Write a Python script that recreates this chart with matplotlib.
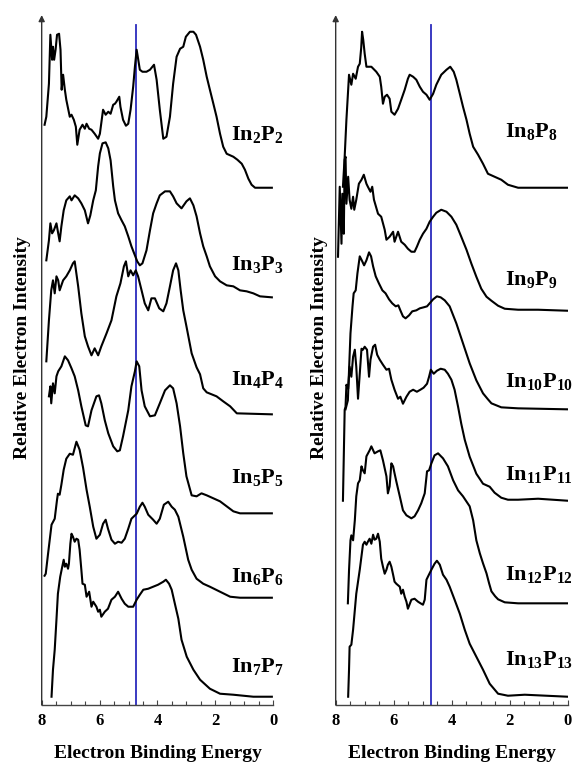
import numpy as np
import matplotlib
matplotlib.use('Agg')
import matplotlib.pyplot as plt
from matplotlib.ticker import MultipleLocator

# photoelectron spectra, (binding energy eV, intensity above baseline)
in2p2 = [(7.90, 63), (7.84, 71), (7.75, 104), (7.70, 153), (7.64, 128), (7.61, 141), (7.57, 128), (7.52, 138),
         (7.47, 153), (7.40, 154), (7.35, 138), (7.31, 98), (7.26, 113), (7.20, 98), (7.15, 88), (7.03, 71),
         (6.97, 73), (6.89, 68), (6.82, 61), (6.77, 43), (6.69, 58), (6.59, 63), (6.51, 59), (6.45, 64),
         (6.36, 59), (6.28, 58), (6.17, 54), (6.05, 49), (5.99, 54), (5.88, 78), (5.79, 73), (5.70, 76),
         (5.62, 74), (5.53, 83), (5.47, 84), (5.42, 86), (5.32, 91), (5.28, 81), (5.19, 68), (5.09, 62),
         (5.01, 64), (4.93, 78), (4.84, 101), (4.78, 121), (4.72, 138), (4.67, 129), (4.61, 118), (4.52, 116),
         (4.38, 116), (4.26, 118), (4.12, 123), (4.03, 108), (3.92, 78), (3.80, 49), (3.69, 51), (3.57, 71),
         (3.46, 104), (3.34, 131), (3.22, 139), (3.11, 141), (3.02, 151), (2.88, 156), (2.76, 156), (2.67, 153),
         (2.53, 141), (2.42, 128), (2.30, 111), (2.19, 98), (2.07, 84), (1.96, 71), (1.84, 54), (1.73, 41),
         (1.61, 34), (1.38, 31), (1.24, 28), (1.09, 24), (0.98, 18), (0.86, 9), (0.75, 3), (0.63, 0),
         (0.46, 0), (0.05, 0)]

in3p3 = [(7.84, 37), (7.75, 57), (7.70, 74), (7.64, 64), (7.58, 67), (7.49, 74), (7.43, 64), (7.38, 56),
         (7.32, 71), (7.24, 87), (7.15, 97), (7.03, 101), (6.97, 97), (6.86, 102), (6.74, 99), (6.63, 94),
         (6.51, 87), (6.40, 74), (6.32, 82), (6.22, 97), (6.13, 107), (6.05, 131), (5.99, 144), (5.90, 154),
         (5.79, 155), (5.70, 149), (5.62, 137), (5.53, 111), (5.47, 97), (5.36, 84), (5.24, 77), (5.13, 71),
         (5.01, 61), (4.90, 51), (4.78, 42), (4.70, 36), (4.61, 32), (4.52, 34), (4.38, 47), (4.26, 67),
         (4.15, 84), (4.03, 94), (3.92, 102), (3.74, 106), (3.57, 106), (3.46, 101), (3.34, 94), (3.17, 89),
         (3.00, 96), (2.88, 99), (2.76, 92), (2.65, 81), (2.53, 64), (2.42, 51), (2.30, 41), (2.19, 31),
         (2.01, 21), (1.84, 16), (1.61, 12), (1.38, 11), (1.15, 7), (0.92, 6), (0.69, 4), (0.46, 1), (0.05, 0)]

in4p4 = [(7.84, 53), (7.75, 94), (7.67, 124), (7.61, 134), (7.55, 121), (7.49, 138), (7.43, 134), (7.38, 124),
         (7.26, 134), (7.15, 138), (7.03, 144), (6.92, 151), (6.86, 153), (6.74, 128), (6.63, 101), (6.51, 78),
         (6.40, 68), (6.28, 59), (6.17, 66), (6.05, 59), (5.94, 68), (5.76, 81), (5.59, 94), (5.42, 118),
         (5.28, 131), (5.16, 148), (5.09, 153), (5.01, 138), (4.93, 144), (4.84, 139), (4.75, 144), (4.67, 138),
         (4.55, 124), (4.44, 111), (4.32, 104), (4.21, 116), (4.09, 116), (3.94, 106), (3.80, 103), (3.69, 111),
         (3.57, 128), (3.46, 144), (3.36, 151), (3.28, 144), (3.20, 124), (3.11, 104), (3.00, 88), (2.82, 61),
         (2.65, 47), (2.53, 40), (2.42, 26), (2.30, 22), (1.96, 18), (1.73, 13), (1.49, 8), (1.26, 1), (0.05, 0)]

in5p5 = [(7.75, 117), (7.70, 127), (7.67, 110), (7.61, 130), (7.55, 120), (7.49, 137), (7.43, 142), (7.32, 147),
         (7.20, 157), (7.09, 153), (6.97, 145), (6.86, 137), (6.74, 123), (6.63, 107), (6.48, 88), (6.40, 87),
         (6.28, 103), (6.11, 117), (6.02, 118), (5.94, 110), (5.82, 93), (5.70, 80), (5.53, 67), (5.39, 62),
         (5.30, 63), (5.19, 77), (5.01, 103), (4.90, 127), (4.78, 142), (4.72, 152), (4.63, 147), (4.55, 123),
         (4.44, 107), (4.26, 97), (4.09, 98), (3.92, 110), (3.74, 123), (3.57, 128), (3.46, 125), (3.34, 110),
         (3.22, 87), (3.11, 60), (3.00, 37), (2.82, 18), (2.65, 17), (2.48, 20), (2.30, 18), (2.07, 15),
         (1.84, 12), (1.61, 7), (1.38, 2), (1.15, 0), (0.05, 0)]

in6p6 = [(7.90, 22), (7.86, 24), (7.78, 44), (7.66, 73), (7.55, 79), (7.47, 98), (7.44, 104), (7.38, 103),
         (7.32, 113), (7.24, 128), (7.15, 139), (7.03, 144), (6.92, 143), (6.80, 156), (6.69, 148), (6.57, 130),
         (6.45, 108), (6.34, 91), (6.22, 71), (6.11, 59), (5.99, 63), (5.88, 74), (5.79, 78), (5.71, 69),
         (5.59, 58), (5.47, 54), (5.36, 56), (5.24, 55), (5.13, 59), (5.01, 69), (4.90, 79), (4.72, 84),
         (4.61, 91), (4.52, 95), (4.44, 91), (4.32, 83), (4.15, 78), (4.03, 74), (3.92, 79), (3.78, 93),
         (3.63, 96), (3.51, 91), (3.40, 88), (3.28, 81), (3.11, 61), (2.94, 38), (2.82, 28), (2.65, 19),
         (2.42, 14), (2.19, 11), (1.84, 6), (1.49, 1), (1.15, 0), (0.05, 0)]

in7p7 = [(7.66, 0), (7.61, 27), (7.55, 47), (7.49, 77), (7.44, 103), (7.36, 120), (7.29, 130), (7.24, 137),
         (7.20, 130), (7.15, 133), (7.09, 128), (7.06, 133), (7.01, 153), (6.97, 163), (6.92, 160), (6.86, 155),
         (6.80, 158), (6.74, 157), (6.69, 147), (6.63, 127), (6.59, 113), (6.51, 112), (6.45, 100), (6.36, 105),
         (6.28, 90), (6.22, 95), (6.11, 90), (6.05, 85), (5.99, 87), (5.94, 80), (5.82, 85), (5.71, 88),
         (5.59, 97), (5.47, 100), (5.36, 105), (5.24, 98), (5.13, 93), (5.01, 90), (4.84, 90), (4.72, 97),
         (4.61, 102), (4.49, 107), (4.32, 108), (4.15, 110), (3.98, 112), (3.80, 115), (3.71, 117), (3.60, 113),
         (3.51, 107), (3.40, 93), (3.28, 78), (3.17, 57), (2.99, 40), (2.76, 27), (2.53, 17), (2.19, 8),
         (1.84, 3), (1.38, 2), (0.69, 0), (0.05, 0)]

in8p8 = [(7.75, 1), (7.69, 31), (7.63, 68), (7.57, 98), (7.54, 113), (7.46, 103), (7.40, 114), (7.31, 109),
         (7.23, 121), (7.17, 124), (7.12, 140), (7.09, 156), (7.05, 148), (7.00, 134), (6.94, 121), (6.77, 121),
         (6.60, 116), (6.48, 111), (6.43, 101), (6.37, 84), (6.31, 91), (6.23, 93), (6.14, 89), (6.08, 76),
         (5.97, 73), (5.85, 79), (5.74, 88), (5.62, 98), (5.51, 109), (5.45, 113), (5.33, 111), (5.22, 108),
         (5.10, 101), (4.99, 96), (4.87, 93), (4.76, 88), (4.64, 94), (4.53, 103), (4.36, 113), (4.18, 118),
         (4.05, 121), (3.93, 116), (3.84, 108), (3.72, 94), (3.61, 81), (3.49, 68), (3.38, 54), (3.26, 41),
         (3.09, 33), (2.92, 24), (2.75, 14), (2.52, 11), (2.29, 8), (2.06, 3), (1.71, 0), (0.0, 0)]

in9p9 = [(7.92, 54), (7.86, 124), (7.80, 67), (7.77, 117), (7.72, 77), (7.69, 151), (7.66, 154), (7.63, 107),
         (7.57, 134), (7.52, 111), (7.46, 102), (7.40, 114), (7.36, 101), (7.29, 111), (7.20, 127), (7.11, 131),
         (7.03, 136), (6.94, 127), (6.89, 124), (6.80, 119), (6.74, 124), (6.68, 111), (6.54, 97), (6.43, 94),
         (6.31, 81), (6.25, 71), (6.14, 74), (6.02, 79), (5.97, 69), (5.85, 79), (5.74, 69), (5.62, 66),
         (5.51, 62), (5.39, 59), (5.28, 59), (5.20, 64), (5.10, 71), (4.99, 77), (4.87, 82), (4.76, 89),
         (4.64, 94), (4.53, 98), (4.36, 101), (4.18, 99), (4.01, 94), (3.84, 86), (3.67, 74), (3.49, 61),
         (3.32, 47), (3.15, 34), (2.98, 22), (2.80, 14), (2.63, 10), (2.40, 5), (2.17, 2), (1.71, 1),
         (1.02, 1), (0.0, 0)]

in10p10 = [(7.66, 0), (7.58, 9), (7.49, 76), (7.42, 103), (7.38, 116), (7.31, 119), (7.25, 136), (7.17, 153),
           (7.10, 149), (7.02, 144), (6.94, 149), (6.85, 157), (6.78, 153), (6.71, 143), (6.62, 133), (6.51, 126),
           (6.39, 119), (6.28, 116), (6.16, 110), (6.05, 106), (5.93, 103), (5.84, 104), (5.77, 99), (5.68, 93),
           (5.59, 91), (5.47, 94), (5.36, 98), (5.22, 99), (5.10, 101), (4.97, 102), (4.85, 103), (4.76, 106),
           (4.64, 110), (4.51, 113), (4.38, 112), (4.24, 109), (4.07, 103), (3.84, 86), (3.61, 66), (3.38, 46),
           (3.15, 29), (2.92, 16), (2.75, 10), (2.63, 6), (2.29, 2), (1.71, 1), (0.0, 0)]

in11p11 = [(7.75, 0), (7.69, 91), (7.66, 94), (7.63, 116), (7.57, 112), (7.52, 134), (7.46, 124), (7.40, 144),
           (7.34, 151), (7.29, 134), (7.23, 102), (7.17, 127), (7.11, 152), (7.06, 151), (7.00, 154), (6.92, 151),
           (6.85, 124), (6.80, 141), (6.71, 154), (6.64, 156), (6.57, 146), (6.48, 141), (6.37, 136), (6.25, 131),
           (6.16, 132), (6.08, 121), (5.97, 111), (5.85, 102), (5.77, 104), (5.68, 97), (5.56, 104), (5.45, 109),
           (5.33, 111), (5.20, 109), (5.08, 111), (4.97, 113), (4.85, 117), (4.78, 124), (4.72, 131), (4.62, 127),
           (4.51, 130), (4.38, 132), (4.24, 131), (4.13, 127), (4.01, 121), (3.90, 111), (3.78, 94), (3.67, 77),
           (3.55, 61), (3.38, 44), (3.15, 27), (2.92, 17), (2.69, 14), (2.52, 8), (2.29, 3), (2.06, 1),
           (1.71, 1), (1.02, 2), (0.0, 0)]

in12p12 = [(7.58, 0), (7.54, 33), (7.49, 63), (7.46, 68), (7.40, 63), (7.34, 83), (7.29, 107), (7.23, 120),
           (7.17, 123), (7.11, 137), (7.06, 133), (7.00, 130), (6.94, 147), (6.83, 153), (6.77, 157), (6.66, 150),
           (6.54, 152), (6.46, 153), (6.37, 143), (6.25, 127), (6.20, 110), (6.14, 117), (6.08, 140), (6.02, 137),
           (5.97, 130), (5.91, 122), (5.79, 107), (5.68, 93), (5.56, 88), (5.39, 85), (5.28, 87), (5.16, 93),
           (5.05, 100), (4.93, 110), (4.85, 132), (4.78, 133), (4.70, 140), (4.59, 148), (4.47, 150), (4.30, 145),
           (4.13, 137), (3.95, 123), (3.78, 113), (3.61, 107), (3.38, 97), (3.26, 83), (3.15, 63), (3.03, 50),
           (2.92, 40), (2.80, 30), (2.71, 20), (2.63, 12), (2.50, 7), (2.40, 4), (2.17, 1), (1.71, 0), (0.0, 0)]

in13p13 = [(7.57, 0), (7.54, 27), (7.52, 50), (7.46, 52), (7.40, 67), (7.29, 103), (7.17, 127), (7.06, 152),
           (7.00, 155), (6.94, 152), (6.89, 155), (6.83, 158), (6.77, 153), (6.71, 162), (6.66, 157), (6.60, 158),
           (6.54, 163), (6.48, 155), (6.43, 138), (6.37, 130), (6.31, 123), (6.25, 127), (6.20, 132), (6.14, 135),
           (6.08, 130), (6.02, 122), (5.97, 115), (5.91, 113), (5.79, 110), (5.74, 103), (5.68, 107), (5.62, 100),
           (5.56, 95), (5.51, 88), (5.39, 97), (5.28, 98), (5.16, 95), (5.05, 93), (4.99, 92), (4.93, 97),
           (4.87, 117), (4.82, 120), (4.70, 127), (4.59, 133), (4.51, 136), (4.41, 132), (4.30, 122), (4.18, 117),
           (4.07, 110), (3.90, 97), (3.72, 83), (3.55, 67), (3.38, 53), (3.15, 40), (2.92, 27), (2.69, 13),
           (2.40, 3), (2.06, 1), (1.48, 2), (0.0, 0)]

left_sizes = [2, 3, 4, 5, 6, 7]
right_sizes = [8, 9, 10, 11, 12, 13]
left_spectra = [in2p2, in3p3, in4p4, in5p5, in6p6, in7p7]
right_spectra = [in8p8, in9p9, in10p10, in11p11, in12p12, in13p13]

# vertical stacking offsets and label heights (same units as intensity)
left_offsets = [517.3, 407.7, 290.7, 191.7, 107.3, 8.3]
right_offsets = [517.3, 394.3, 295.7, 204.3, 101.7, 8.3]
left_label_y = [565, 435, 320, 222, 123, 33]
right_label_y = [568, 420, 318, 225, 125, 40]

vde_line = 4.73  # blue marker line

plt.rcParams['font.family'] = 'Liberation Serif'
plt.rcParams['font.weight'] = 'bold'
plt.rcParams['mathtext.fontset'] = 'custom'
plt.rcParams['mathtext.rm'] = 'Liberation Serif:bold'
plt.rcParams['mathtext.bf'] = 'Liberation Serif:bold'

fig = plt.figure(figsize=(5.75, 7.64), dpi=100)
ax_l = fig.add_axes([0.0725, 0.0772, 0.4028, 0.9031])
ax_r = fig.add_axes([0.5838, 0.0772, 0.4035, 0.9031])


def draw_panel(ax, spectra, sizes, offsets, label_y, label_x):
    for spec, n, off, ly in zip(spectra, sizes, offsets, label_y):
        e, inten = np.array(spec, dtype=float).T
        ax.plot(e, inten + off, color='black', lw=1.5, zorder=3)
        ax.text(label_x, ly, r'$\mathbf{In_{%d}P_{%d}}$' % (n, n), fontsize=16,
                ha='left', va='baseline')
    ax.axvline(vde_line, ymin=0, ymax=0.985, color='#2b2bbd', lw=1.3, zorder=2)

    ax.set_xlim(8, 0)
    ax.set_ylim(0, 690)
    ax.set_yticks([])
    ax.xaxis.set_major_locator(MultipleLocator(2))
    ax.xaxis.set_minor_locator(MultipleLocator(0.5))
    ax.tick_params(axis='x', which='both', direction='in', length=3.5, width=0.8,
                   color='#444444', labelsize=12, pad=6)
    ax.tick_params(axis='x', which='minor', length=3)
    for spine in ['top', 'right', 'left']:
        ax.spines[spine].set_visible(False)
    ax.spines['bottom'].set_color('#444444')
    ax.spines['bottom'].set_linewidth(1.0)
    ax.annotate('', xy=(0, 1), xytext=(0, 0), xycoords='axes fraction',
                arrowprops=dict(arrowstyle='-|>', color='#333333', lw=1.0,
                                mutation_scale=9, shrinkA=0, shrinkB=0),
                annotation_clip=False)
    ax.set_xlabel('Electron Binding Energy', fontsize=14, fontweight='bold', labelpad=11)
    ax.patch.set_visible(False)


draw_panel(ax_l, left_spectra, left_sizes, left_offsets, left_label_y, 1.47)
draw_panel(ax_r, right_spectra, right_sizes, right_offsets, right_label_y, 2.17)

fig.text(22.5 / 575, 1 - 348 / 764, 'Relative Electron Intensity', rotation=90,
         ha='center', va='center', fontsize=14, fontweight='bold')
fig.text(320 / 575, 1 - 348 / 764, 'Relative Electron Intensity', rotation=90,
         ha='center', va='center', fontsize=14, fontweight='bold')

fig.savefig('out.png', dpi=100)
